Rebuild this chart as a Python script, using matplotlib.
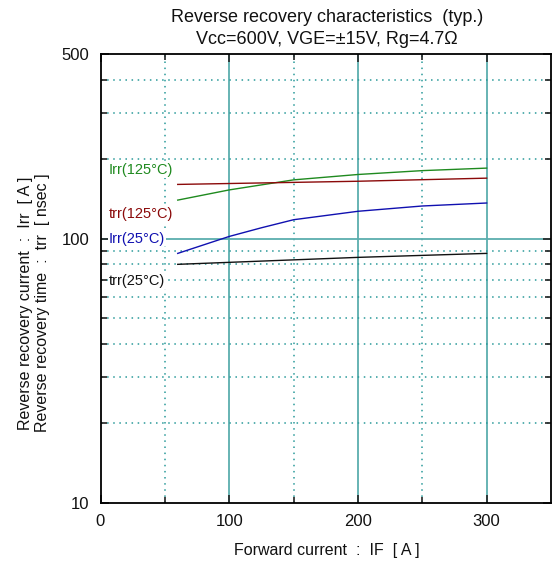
import numpy as np
import matplotlib
matplotlib.use("Agg")
import matplotlib.pyplot as plt
from matplotlib.ticker import FixedLocator, FixedFormatter, NullFormatter

plt.rcParams["font.family"] = ["Liberation Sans", "DejaVu Sans"]

# values (IF in A, Irr in A, trr in nsec)
if_irr125 = [60, 100, 150, 200, 250, 300]
irr125 = [140, 153, 167, 175, 181, 185]
if_trr125 = [60, 200, 300]
trr125 = [160.5, 165, 169.5]
if_irr25 = [60, 100, 125, 150, 200, 250, 300]
irr25 = [88, 102, 110, 118, 127, 133, 136.5]
if_trr25 = [60, 200, 300]
trr25 = [80, 85, 88]

labels = ["Irr(125°C)", "trr(125°C)", "Irr(25°C)", "trr(25°C)"]
label_y = [182, 124, 100, 69]
colors = ["#1f8a1f", "#8b0a0a", "#1010b0", "#111111"]

x_major = [0, 100, 200, 300]
x_minor = [50, 150, 250]
y_labeled = [10, 100, 500]
y_minor = [20, 30, 40, 50, 60, 70, 80, 90, 200, 300, 400]

W, H = 552, 561
fig = plt.figure(figsize=(W / 100, H / 100), dpi=100)
ax = fig.add_axes([100.5 / W, 1 - 503 / H, 450.5 / W, 449 / H])

ax.set_yscale("log")
ax.set_xlim(0, 350)
ax.set_ylim(10, 500)

# grid
for x in x_major[1:]:
    ax.axvline(x, color="#5aaeae", lw=1.3, zorder=1)
for x in x_minor:
    ax.axvline(x, color="#2a9a9a", lw=1.1, ls=(0, (1, 3)), zorder=1)
ax.axhline(100, color="#5aaeae", lw=1.3, zorder=1)
for y in y_minor:
    ax.axhline(y, color="#2a9a9a", lw=1.1, ls=(0, (1, 3)), zorder=1)

ax.plot(if_irr125, irr125, color=colors[0], lw=1, zorder=3)
ax.plot(if_trr125, trr125, color=colors[1], lw=1, zorder=3)
ax.plot(if_irr25, irr25, color=colors[2], lw=1, zorder=3)
ax.plot(if_trr25, trr25, color=colors[3], lw=1, zorder=3)

for txt, yv, c in zip(labels, label_y, colors):
    ax.text(6.5, yv, txt, color=c, fontsize=10.5, va="center", ha="left", zorder=4,
            bbox=dict(facecolor="white", edgecolor="none", pad=0.5))

ax.xaxis.set_major_locator(FixedLocator(x_major))
ax.xaxis.set_minor_locator(FixedLocator(x_minor))
ax.yaxis.set_major_locator(FixedLocator(y_labeled))
ax.yaxis.set_minor_locator(FixedLocator(y_minor))
ax.yaxis.set_major_formatter(FixedFormatter([str(v) for v in y_labeled]))
ax.yaxis.set_minor_formatter(NullFormatter())
ax.tick_params(which="both", direction="in", top=True, right=True, labelsize=12,
               width=1.2, colors="#222222", labelcolor="#111111")
ax.tick_params(which="major", length=6, pad=8)
ax.tick_params(which="minor", length=4)

for sp in ax.spines.values():
    sp.set_linewidth(1.3)

fig.text(327 / W, 1 - 551 / H, "Forward current  :  IF  [ A ]", fontsize=11.5,
         ha="center", va="center", color="#111111")
fig.text(34 / W, 1 - 303 / H,
         "Reverse recovery current  :  Irr  [ A ]\nReverse recovery time  :  trr  [ nsec ]",
         fontsize=11.5, rotation=90, ha="center", va="center", linespacing=1.2,
         color="#111111")
fig.text(327 / W, 1 - 18 / H, "Reverse recovery characteristics  (typ.)", fontsize=13,
         ha="center", va="center", color="#111111")
fig.text(327 / W, 1 - 39 / H, "Vcc=600V, VGE=±15V, Rg=4.7Ω", fontsize=13,
         ha="center", va="center", color="#111111")

fig.savefig("out.png", dpi=100)
